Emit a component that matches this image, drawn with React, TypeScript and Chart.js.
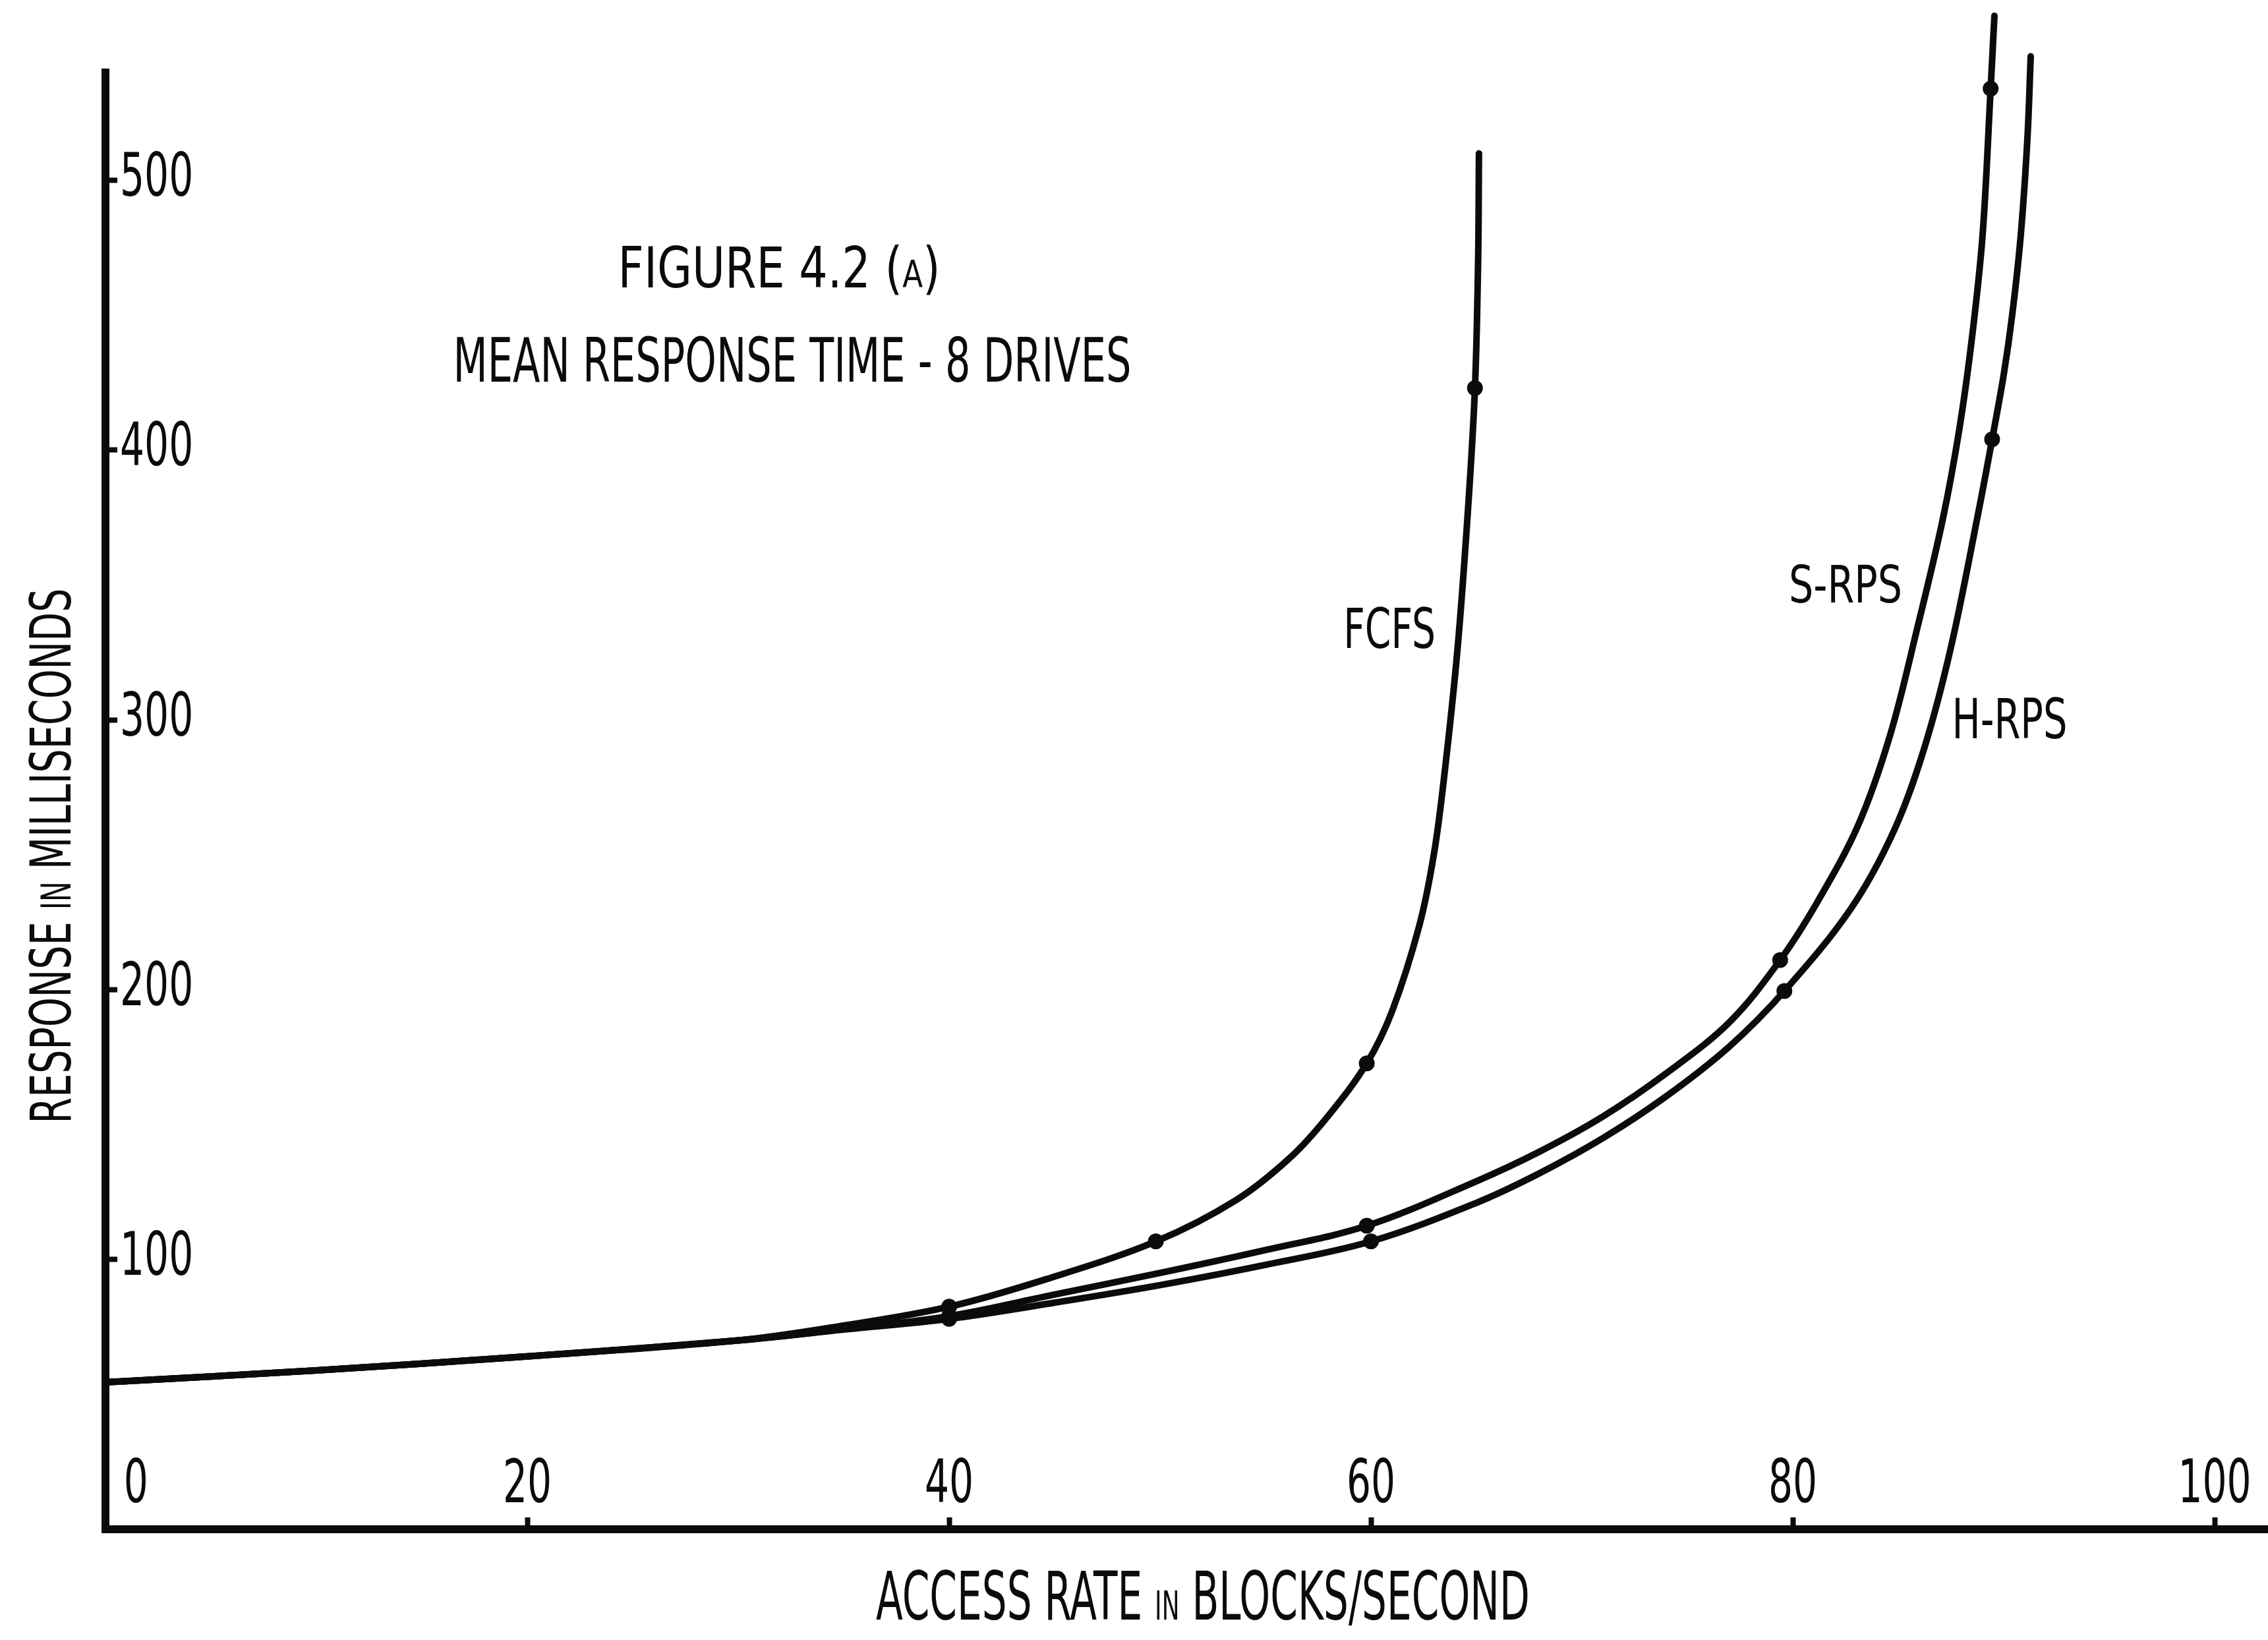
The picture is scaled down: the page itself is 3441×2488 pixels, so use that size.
import React, { useEffect, useRef } from 'react';
import { Chart, registerables } from 'chart.js';

Chart.register(...registerables);

// ---------------- data ----------------
const seriesNames = ['FCFS', 'S-RPS', 'H-RPS'];

const fcfsX = [0, 10, 20, 30, 35, 40, 44.6, 49.8, 53.6, 56.2, 58, 59.8, 61, 62.3, 63, 63.5, 64.1, 64.6, 64.93, 65.08, 65.12];
const fcfsY = [54.5, 58.9, 64.1, 70, 75.5, 82.5, 92.7, 106.7, 122, 138, 153.5, 172.7, 192, 224, 251, 281, 326, 378, 423, 470, 510];
const fcfsMarkers = [40, 49.8, 59.8, 64.93];

const srpsX = [0, 10, 20, 30, 35, 40, 45, 50, 55, 59.8, 65, 68, 71, 74, 77, 79.4, 81.2, 83.1, 84.6, 85.9, 87.1, 87.9, 88.5, 89.0, 89.38, 89.56];
const srpsY = [54.5, 58.9, 64.1, 70, 74.2, 79, 87, 95, 103.5, 112.5, 129, 140, 153, 169, 188, 211, 233, 261, 294, 334, 374, 408, 442, 480, 534, 561];
const srpsMarkers = [40, 59.8, 79.4, 89.38];

const hrpsX = [0, 10, 20, 30, 35, 40, 45, 50, 55, 60, 65, 68, 71, 74, 77, 79.6, 82.75, 84.8, 86.25, 87.5, 88.8, 89.45, 90.0, 90.4, 90.8, 91.12, 91.28];
const hrpsY = [54.5, 58.9, 64.1, 70, 74, 78, 84, 90.5, 98, 106.7, 121, 132, 145, 160.5, 179, 199.5, 230, 259, 290, 327, 377, 404, 428, 450, 479, 515, 546];
const hrpsMarkers = [40, 60, 79.6, 89.45];

const xTicks = [0, 20, 40, 60, 80, 100];
const yTicks = [100, 200, 300, 400, 500];

// text (segments: [text, relative size]; small size = small capitals)
const titleLine1: [string, number][] = [['FIGURE 4.2 (', 1], ['A', 0.66], [')', 1]];
const titleLine2: [string, number][] = [['MEAN RESPONSE TIME - 8 DRIVES', 1]];
const xTitle: [string, number][] = [['ACCESS RATE ', 1], ['IN', 0.6], [' BLOCKS/SECOND', 1]];
const yTitle: [string, number][] = [['RESPONSE ', 1], ['IN', 0.72], [' MILLISECONDS', 1]];

// ---------------- style ----------------
const W = 3441;
const H = 2488;
const INK = '#0b0b0b';
const FONT = "'Liberation Sans Narrow', 'DejaVu Sans Condensed', 'Liberation Sans', sans-serif";
const TICK_FONT = "'DejaVu Sans Condensed', 'DejaVu Sans', sans-serif";
const TICK_SX = 0.72; // horizontal squeeze of tick labels (plotter lettering)

// annotation placement: data-space centres, cap height and ink width in px
const annotations = [
  { segs: titleLine1, x: 31.94, y: 468, capH: 63, width: 489 },
  { segs: titleLine2, x: 32.56, y: 433.5, capH: 67, width: 1029 },
  { segs: [[seriesNames[0], 1]] as [string, number][], x: 60.88, y: 334.2, capH: 61, width: 140 },
  { segs: [[seriesNames[1], 1]] as [string, number][], x: 82.5, y: 350.6, capH: 57, width: 172 },
  { segs: [[seriesNames[2], 1]] as [string, number][], x: 90.28, y: 300.7, capH: 61, width: 175 },
];

function drawRich(
  ctx: CanvasRenderingContext2D,
  segs: [string, number][],
  cx: number,
  cy: number,
  capH: number,
  targetW: number,
  rot: number
) {
  ctx.save();
  ctx.font = `100px ${FONT}`;
  const m = ctx.measureText('H');
  const hAsc = m.actualBoundingBoxAscent || 71.6;
  const size = (capH * 100) / hAsc;
  const widths: number[] = [];
  let total = 0;
  for (const [t, s] of segs) {
    ctx.font = `${size * s}px ${FONT}`;
    const w = ctx.measureText(t).width;
    widths.push(w);
    total += w;
  }
  const sx = targetW / total;
  ctx.translate(cx, cy);
  ctx.rotate(rot);
  ctx.scale(sx, 1);
  ctx.fillStyle = INK;
  ctx.textAlign = 'left';
  ctx.textBaseline = 'alphabetic';
  let x = -total / 2;
  segs.forEach(([t, s], i) => {
    ctx.font = `${size * s}px ${FONT}`;
    ctx.fillText(t, x, capH / 2);
    x += widths[i];
  });
  ctx.restore();
}

// squeeze the axis tick labels horizontally while Chart.js draws its scales
const condenseTicksPlugin = {
  id: 'condenseTicks',
  beforeDraw(chart: any) {
    const ctx = chart.ctx;
    const orig = CanvasRenderingContext2D.prototype.fillText;
    ctx.fillText = function (text: string, x: number, y: number, maxWidth?: number) {
      this.save();
      this.translate(x, y);
      this.scale(TICK_SX, 1);
      if (maxWidth === undefined) orig.call(this, text, 0, 0);
      else orig.call(this, text, 0, 0, maxWidth);
      this.restore();
    };
  },
  beforeDatasetsDraw(chart: any) {
    delete chart.ctx.fillText;
  },
};

const textPlugin = {
  id: 'plotterText',
  afterDraw(chart: any) {
    const { ctx, chartArea } = chart;
    delete ctx.fillText;
    const xs = chart.scales.x;
    const ys = chart.scales.y;
    for (const a of annotations) {
      drawRich(ctx, a.segs, xs.getPixelForValue(a.x), ys.getPixelForValue(a.y), a.capH, a.width, 0);
    }
    drawRich(ctx, xTitle, xs.getPixelForValue(52.03), chartArea.bottom + 100, 74, 992, 0);
    drawRich(ctx, yTitle, chartArea.left - 85, ys.getPixelForValue(249.6), 63, 812, -Math.PI / 2);
  },
};

function makeDataset(label: string, xs: number[], ys: number[], markers: number[]) {
  return {
    label,
    data: xs.map((v, i) => ({ x: v, y: ys[i] })),
    borderColor: INK,
    backgroundColor: INK,
    borderWidth: 10,
    borderCapStyle: 'round',
    borderJoinStyle: 'round',
    tension: 0.35,
    fill: false,
    clip: false,
    pointRadius: xs.map((v) => (markers.includes(v) ? 12 : 0)),
    pointHoverRadius: 0,
    pointBorderWidth: 0,
    pointBackgroundColor: INK,
  };
}

export default function App() {
  const ref = useRef<HTMLCanvasElement>(null);

  useEffect(() => {
    const canvas = ref.current;
    if (!canvas) return;
    const tickFont = { family: TICK_FONT, size: 90, weight: 'normal' as const };
    const chart = new Chart(canvas, {
      type: 'line',
      data: {
        datasets: [
          makeDataset(seriesNames[0], fcfsX, fcfsY, fcfsMarkers),
          makeDataset(seriesNames[1], srpsX, srpsY, srpsMarkers),
          makeDataset(seriesNames[2], hrpsX, hrpsY, hrpsMarkers),
        ] as any,
      },
      options: {
        responsive: false,
        animation: false,
        devicePixelRatio: 1,
        events: [],
        layout: { padding: { top: 110, left: 0, right: 0, bottom: 0 } },
        plugins: {
          legend: { display: false },
          tooltip: { enabled: false },
          title: { display: false },
        },
        scales: {
          x: {
            type: 'linear',
            min: 0,
            max: 102.53,
            afterBuildTicks: (s: any) => {
              s.ticks = xTicks.map((v) => ({ value: v }));
            },
            afterFit: (s: any) => {
              s.height = H - 2320;
              s.paddingLeft = 0;
              s.paddingRight = 0;
            },
            grid: {
              display: true,
              drawOnChartArea: false,
              drawTicks: true,
              tickLength: -18,
              tickWidth: 8,
              tickColor: INK,
            },
            border: { display: true, color: INK, width: 12 },
            ticks: {
              color: INK,
              font: tickFont,
              mirror: true,
              padding: 10,
              maxRotation: 0,
              minRotation: 0,
              autoSkip: false,
              callback: (v: any) => (Number(v) === 0 ? '\u00a0\u00a0\u00a0\u00a0\u00a00' : String(v)),
            },
          },
          y: {
            type: 'linear',
            min: 0,
            max: 540,
            afterBuildTicks: (s: any) => {
              s.ticks = yTicks.map((v) => ({ value: v }));
            },
            afterFit: (s: any) => {
              s.width = 160;
              s.paddingTop = 0;
              s.paddingBottom = 0;
            },
            grid: {
              display: true,
              drawOnChartArea: false,
              drawTicks: true,
              tickLength: -18,
              tickWidth: 8,
              tickColor: INK,
            },
            border: { display: true, color: INK, width: 12 },
            ticks: {
              color: INK,
              font: tickFont,
              mirror: true,
              padding: 22,
              autoSkip: false,
              callback: (v: any) => String(v),
            },
          },
        },
      },
      plugins: [condenseTicksPlugin, textPlugin],
    } as any);
    return () => chart.destroy();
  }, []);

  return (
    <div style={{ position: 'fixed', left: 0, top: 0, width: W, height: H, background: '#fff' }}>
      <canvas ref={ref} width={W} height={H} style={{ display: 'block', width: W, height: H }} />
    </div>
  );
}
